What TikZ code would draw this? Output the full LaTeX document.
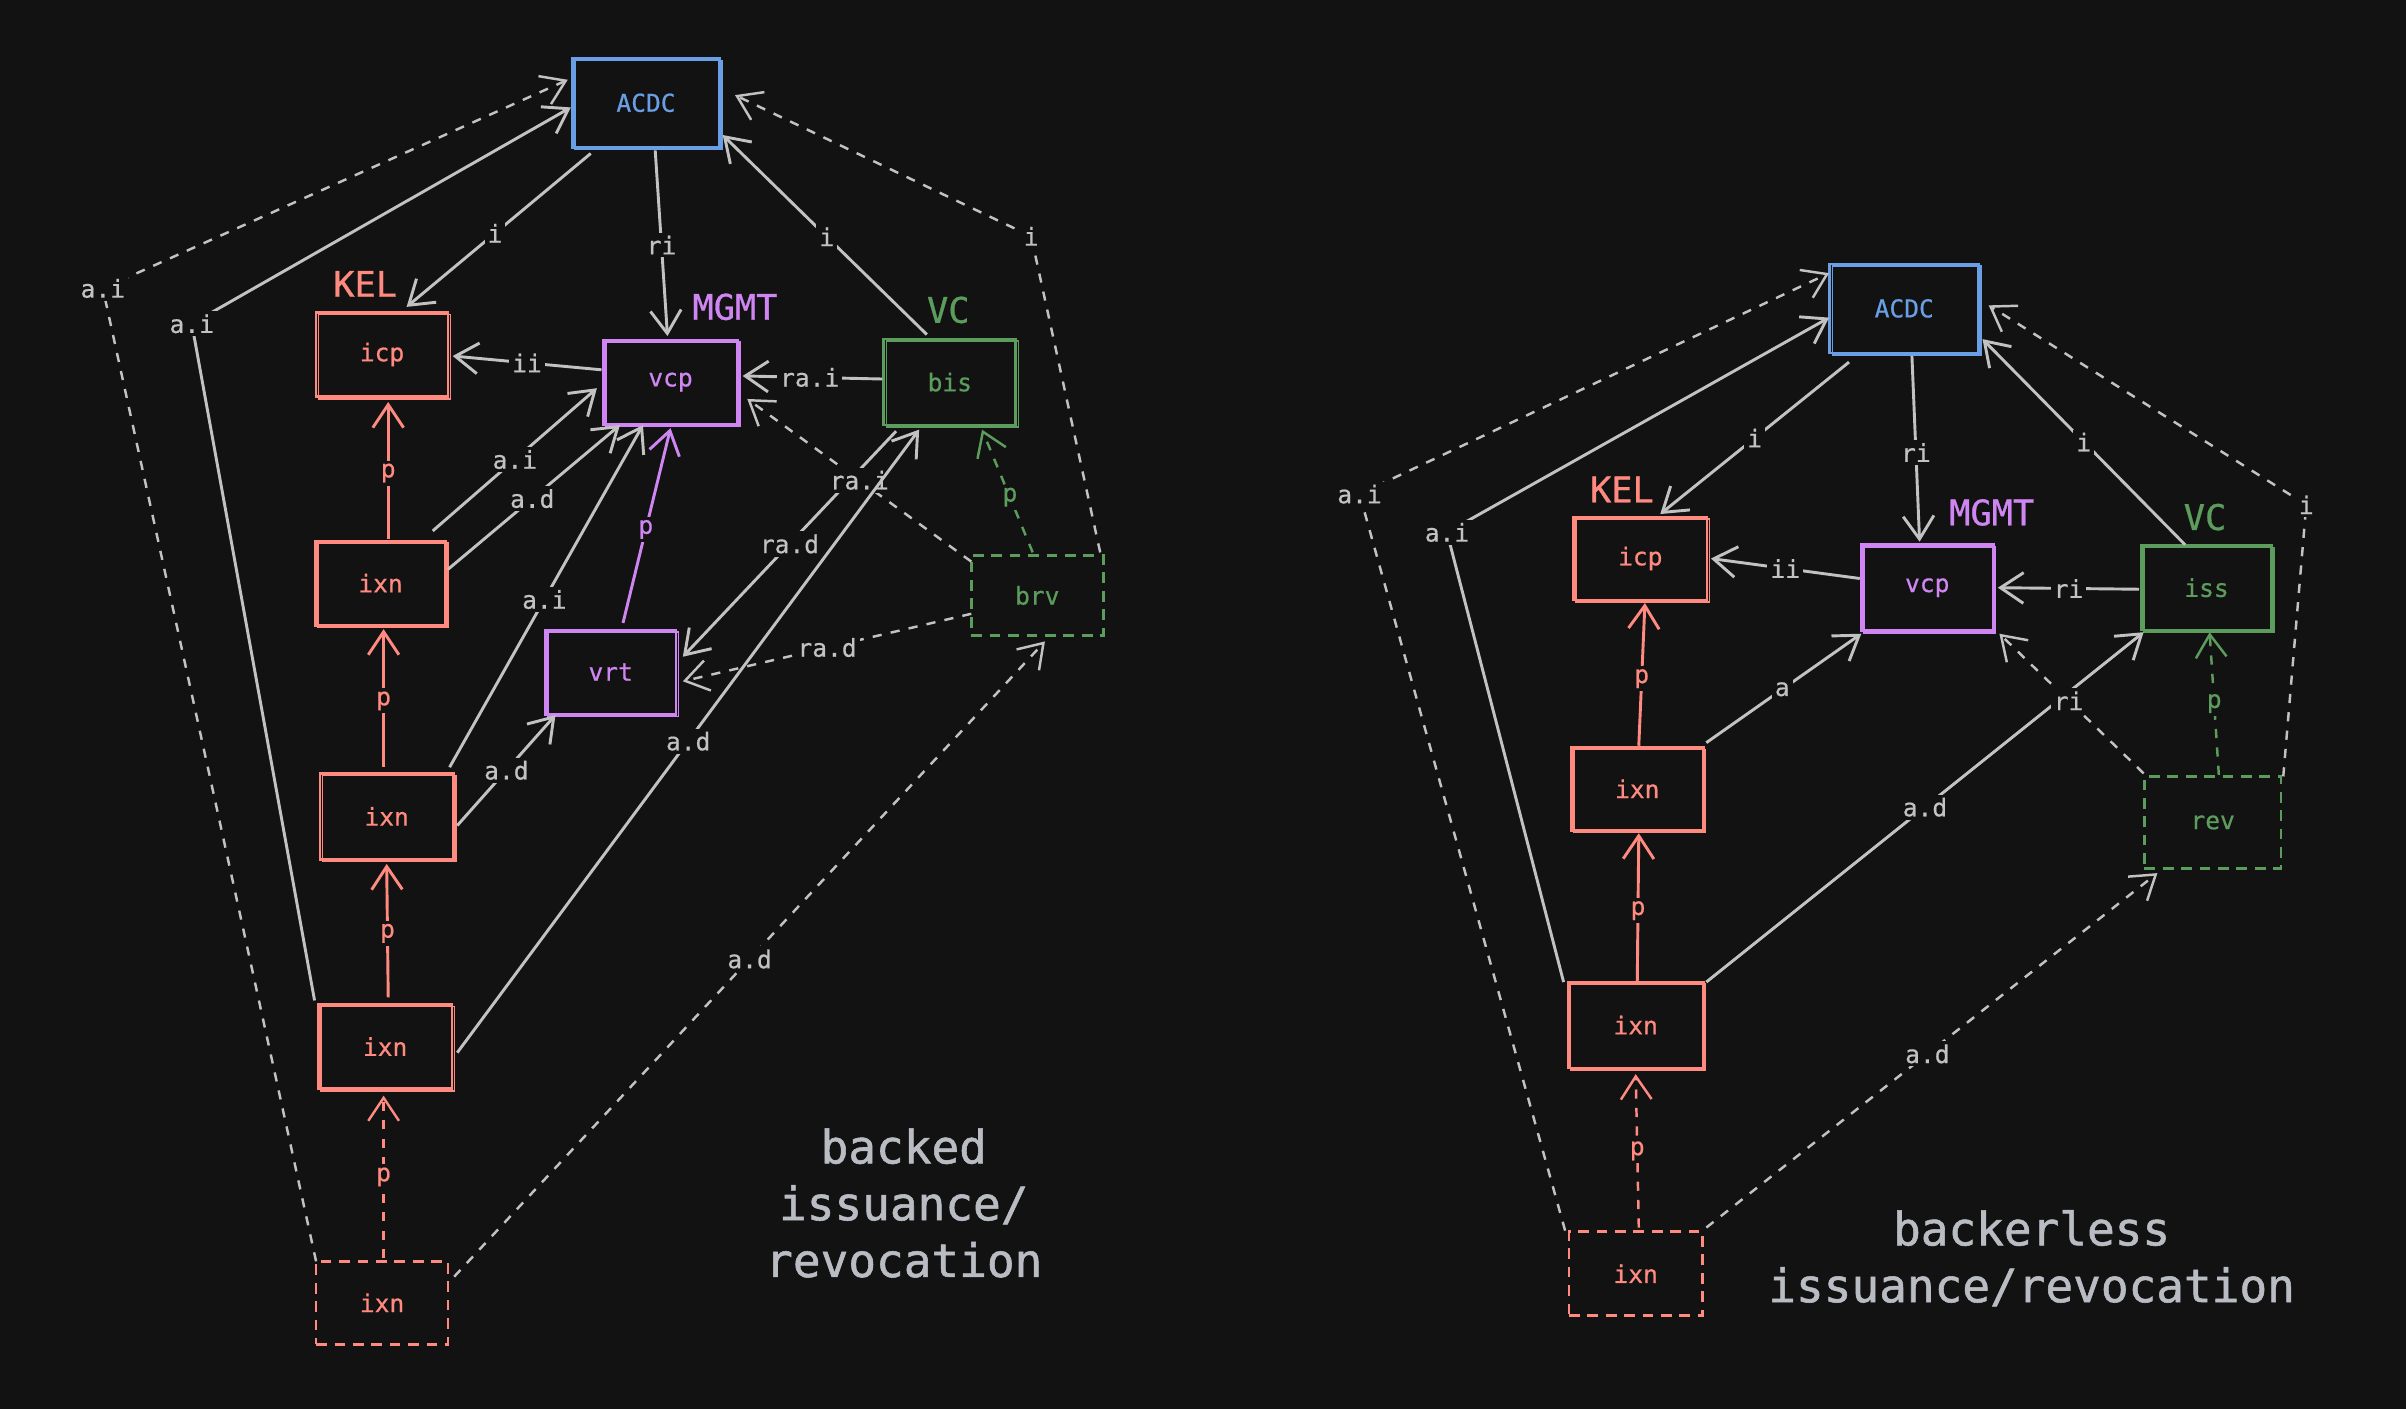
\documentclass[tikz,border=0pt]{standalone}
\usepackage{fontspec}
\setmainfont{DejaVu Sans Mono}
\usetikzlibrary{arrows.meta}
\definecolor{bg}{HTML}{121212}
\definecolor{cgray}{HTML}{C2C2C2}
\definecolor{cred}{HTML}{FF8A80}
\definecolor{cblue}{HTML}{6A9FE6}
\definecolor{cpurple}{HTML}{CF86F2}
\definecolor{cgreen}{HTML}{5C9C5C}
\definecolor{ctitle}{HTML}{B9BDC3}
\begin{document}
\begin{tikzpicture}[x=1pt,y=-1pt,
 box/.style={draw=#1, text=#1, line width=1.8pt, inner sep=0pt,
   font=\fontsize{16}{18}\selectfont\addfontfeatures{FakeBold=0.6},
   postaction={draw=#1, line width=1pt, transform canvas={shift={(1.6pt,-1.4pt)}}}},
 sz/.style 2 args={minimum width=#1pt, minimum height=#2pt},
 dbox/.style={draw=#1, text=#1, line width=1.8pt, inner sep=0pt,
   font=\fontsize{16}{18}\selectfont\addfontfeatures{FakeBold=0.6}, dash pattern=on 7pt off 5pt},
 grp/.style={text=#1, inner sep=0pt, font=\fontsize{23}{26}\selectfont\addfontfeatures{FakeBold=0.8}},
 conn/.style={draw=#1, line width=1.9pt, -{Straight Barb[length=15pt,width=20pt]}},
 conn/.default=cgray,
 dconn/.style={conn=#1, line width=1.6pt, dash pattern=on 6pt off 6pt},
 dconn/.default=cgray,
 plain/.style={draw=cgray, line width=1.9pt},
 dplain/.style={plain, line width=1.6pt, dash pattern=on 6pt off 6pt},
 lbl/.style={fill=bg, text=#1, inner sep=2pt, font=\fontsize{16}{18}\selectfont\addfontfeatures{FakeBold=0.6}},
 lbl/.default=cgray,
 title/.style={text=ctitle, align=center, font=\fontsize{30}{37}\selectfont\addfontfeatures{FakeBold=1.2}},
]
\fill[bg] (0,0) rectangle (1568,918);
\useasboundingbox (0,0) rectangle (1568,918);

% ---------------- left diagram ----------------
\node[box=cblue, sz={96}{58}] (acdcL) at (421,67) {ACDC};
\node[box=cred, sz={86}{55}] (icpL) at (249,231) {icp};
\node[box=cpurple, sz={87}{55}] (vcpL) at (437,249) {vcp};
\node[box=cgreen, sz={86}{56}] (bisL) at (619,249) {bis};
\node[box=cred, sz={85}{55}] (ixnL1) at (248,380) {ixn};
\node[box=cpurple, sz={85}{55}] (vrtL) at (398,438) {vrt};
\node[dbox=cgreen, sz={86}{52}] (brvL) at (676,388) {brv};
\node[box=cred, sz={87}{56}] (ixnL2) at (252,532) {ixn};
\node[box=cred, sz={87}{55}] (ixnL3) at (251,682) {ixn};
\node[dbox=cred, sz={86}{54}] (ixnL4) at (249,849) {ixn};
\node[grp=cred] (kelL) at (238,185) {KEL};
\node[grp=cpurple] (mgmtL) at (479,200) {MGMT};
\node[grp=cgreen] (vcL) at (618,202) {VC};
\node[title] (titleL) at (589,784) {backed\\issuance/\\revocation};

\coordinate (bL1) at (672,154);
\coordinate (bL2) at (67,188);
\coordinate (bL3) at (125,211);

\draw[conn] ([shift={(-36,33)}]acdcL.center) -- node[lbl,pos=0.52]{i} ([shift={(16,-31)}]icpL.center);
\draw[conn] ([shift={(6,31)}]acdcL.center) -- node[lbl,pos=0.51]{ri} ([shift={(-2,-30)}]vcpL.center);
\draw[conn] ([shift={(-15,-31)}]bisL.center) -- node[lbl,pos=0.49]{i} ([shift={(50,21)}]acdcL.center);
\draw[dplain] ([shift={(41,-28)}]brvL.center) -- (bL1);
\draw[dconn] (bL1) -- ([shift={(58,-5)}]acdcL.center);
\node[lbl] (lbL1) at (bL1) {i};
\draw[dplain] ([shift={(-43,-27)}]ixnL4.center) -- (bL2);
\draw[dconn] (bL2) -- ([shift={(-51,-15)}]acdcL.center);
\node[lbl] (lbL2) at (bL2) {a.i};
\draw[plain] ([shift={(-46,-30)}]ixnL3.center) -- (bL3);
\draw[conn] (bL3) -- ([shift={(-49,3)}]acdcL.center);
\node[lbl] (lbL3) at (bL3) {a.i};

\draw[conn] ([shift={(-45,-8)}]vcpL.center) -- node[lbl,pos=0.5]{ii} ([shift={(46,1)}]icpL.center);
\draw[conn] ([shift={(-44,-2)}]bisL.center) -- node[lbl,pos=0.52]{ra.i} ([shift={(47,-4)}]vcpL.center);
\draw[conn] ([shift={(34,-34)}]ixnL1.center) -- node[lbl,pos=0.5]{a.i} ([shift={(-48,4)}]vcpL.center);
\draw[conn] ([shift={(44,-9)}]ixnL1.center) -- node[lbl,pos=0.49]{a.d} ([shift={(-33,28)}]vcpL.center);
\draw[conn] ([shift={(41,-32)}]ixnL2.center) -- node[lbl,pos=0.49]{a.i} ([shift={(-18,28)}]vcpL.center);
\draw[conn] ([shift={(46,6)}]ixnL2.center) -- node[lbl,pos=0.5]{a.d} ([shift={(-36,28)}]vrtL.center);
\draw[conn=cpurple] ([shift={(8,-32)}]vrtL.center) -- node[lbl=cpurple,pos=0.48]{p} ([shift={(0,30)}]vcpL.center);
\draw[conn] ([shift={(-35,32)}]bisL.center) -- node[lbl,pos=0.5]{ra.d} ([shift={(47,-10)}]vrtL.center);
\draw[dconn] ([shift={(-43,12)}]brvL.center) -- node[lbl,pos=0.5]{ra.d} ([shift={(47,6)}]vrtL.center);
\draw[dconn] ([shift={(-43,-22)}]brvL.center) -- node[lbl,pos=0.5]{ra.i} ([shift={(50,11)}]vcpL.center);
\draw[dconn=cgreen] ([shift={(-3,-28)}]brvL.center) -- node[lbl=cgreen,pos=0.45]{p} ([shift={(21,31)}]bisL.center);
\draw[conn] ([shift={(47,4)}]ixnL3.center) -- node[lbl,pos=0.5]{a.d} ([shift={(-20,31)}]bisL.center);
\draw[dconn] ([shift={(47,-17)}]ixnL4.center) -- node[lbl,pos=0.5]{a.d} ([shift={(5,30)}]brvL.center);

\draw[conn=cred] ([shift={(5,-29)}]ixnL1.center) -- node[lbl=cred,pos=0.48]{p} ([shift={(4,31)}]icpL.center);
\draw[conn=cred] ([shift={(-2,-32)}]ixnL2.center) -- node[lbl=cred,pos=0.48]{p} ([shift={(2,30)}]ixnL1.center);
\draw[conn=cred] ([shift={(2,-32)}]ixnL3.center) -- node[lbl=cred,pos=0.48]{p} ([shift={(0,31)}]ixnL2.center);
\draw[dconn=cred] ([shift={(1,-29)}]ixnL4.center) -- node[lbl=cred,pos=0.5]{p} ([shift={(-1,32)}]ixnL3.center);

% ---------------- right diagram ----------------
\node[box=cblue, sz={97}{58}] (acdcR) at (1241,201) {ACDC};
\node[box=cred, sz={87}{54}] (icpR) at (1069,364) {icp};
\node[box=cpurple, sz={86}{56}] (vcpR) at (1256,383) {vcp};
\node[box=cgreen, sz={85}{55}] (issR) at (1438,383) {iss};
\node[box=cred, sz={86}{54}] (ixnR1) at (1067,514) {ixn};
\node[dbox=cgreen, sz={89}{60}] (revR) at (1442,536) {rev};
\node[box=cred, sz={88}{56}] (ixnR2) at (1066,668) {ixn};
\node[dbox=cred, sz={87}{55}] (ixnR3) at (1066,830) {ixn};
\node[grp=cred] (kelR) at (1057,319) {KEL};
\node[grp=cpurple] (mgmtR) at (1298,334) {MGMT};
\node[grp=cgreen] (vcR) at (1437,337) {VC};
\node[title] (titleR) at (1324,820) {backerless\\issuance/revocation};

\coordinate (bR1) at (1503,329);
\coordinate (bR2) at (886,322);
\coordinate (bR3) at (943,347);

\draw[conn] ([shift={(-36,35)}]acdcR.center) -- node[lbl,pos=0.5]{i} ([shift={(13,-29)}]icpR.center);
\draw[conn] ([shift={(5,31)}]acdcR.center) -- node[lbl,pos=0.52]{ri} ([shift={(-5,-30)}]vcpR.center);
\draw[conn] ([shift={(-14,-28)}]issR.center) -- node[lbl,pos=0.5]{i} ([shift={(51,20)}]acdcR.center);
\draw[dplain] ([shift={(46,-30)}]revR.center) -- (bR1);
\draw[dconn] (bR1) -- ([shift={(55,-2)}]acdcR.center);
\node[lbl] (lbR1) at (bR1) {i};
\draw[dplain] ([shift={(-46,-28)}]ixnR3.center) -- (bR2);
\draw[dconn] (bR2) -- ([shift={(-49,-23)}]acdcR.center);
\node[lbl] (lbR2) at (bR2) {a.i};
\draw[plain] ([shift={(-47,-28)}]ixnR2.center) -- (bR3);
\draw[conn] (bR3) -- ([shift={(-49,6)}]acdcR.center);
\node[lbl] (lbR3) at (bR3) {a.i};

\draw[conn] ([shift={(-44,-6)}]vcpR.center) -- node[lbl,pos=0.5]{ii} ([shift={(46,0)}]icpR.center);
\draw[conn] ([shift={(-44,1)}]issR.center) -- node[lbl,pos=0.5]{ri} ([shift={(46,0)}]vcpR.center);
\draw[conn] ([shift={(45,-30)}]ixnR1.center) -- node[lbl,pos=0.49]{a} ([shift={(-43,30)}]vcpR.center);
\draw[conn] ([shift={(46,-28)}]ixnR2.center) -- node[lbl,pos=0.5]{a.d} ([shift={(-41,29)}]issR.center);
\draw[dconn] ([shift={(-45,-32)}]revR.center) -- node[lbl,pos=0.52]{ri} ([shift={(47,30)}]vcpR.center);
\draw[dconn=cgreen] ([shift={(4,-31)}]revR.center) -- node[lbl=cgreen,pos=0.5]{p} ([shift={(2,29)}]issR.center);
\draw[dconn] ([shift={(46,-30)}]ixnR3.center) -- node[lbl,pos=0.49]{a.d} ([shift={(-36,33)}]revR.center);

\draw[conn=cred] ([shift={(1,-28)}]ixnR1.center) -- node[lbl=cred,pos=0.47]{p} ([shift={(3,29)}]icpR.center);
\draw[conn=cred] ([shift={(1,-28)}]ixnR2.center) -- node[lbl=cred,pos=0.48]{p} ([shift={(1,29)}]ixnR1.center);
\draw[dconn=cred] ([shift={(2,-30)}]ixnR3.center) -- node[lbl=cred,pos=0.5]{p} ([shift={(0,32)}]ixnR2.center);
\end{tikzpicture}
\end{document}
